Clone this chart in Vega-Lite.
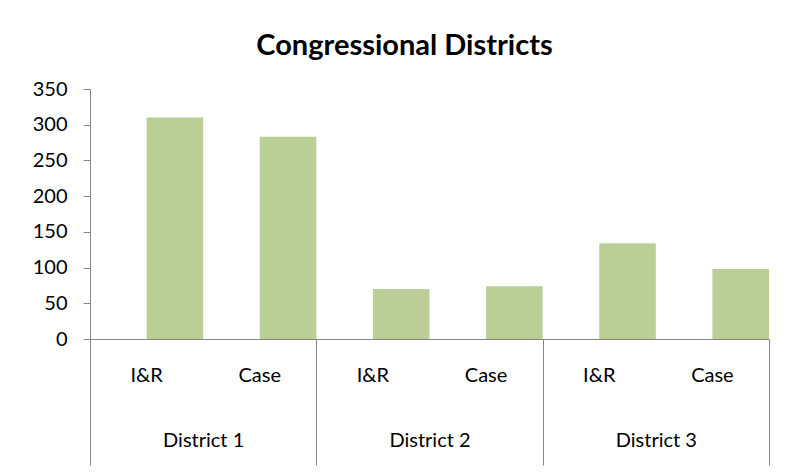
{
  "$schema": "https://vega.github.io/schema/vega-lite/v6.json",
  "width": 679,
  "height": 250,
  "autosize": {"type": "none"},
  "padding": {"left": 90, "top": 89, "right": 19, "bottom": 135},
  "background": "white",
  "title": {
    "text": "Congressional Districts",
    "font": "Lato",
    "fontSize": 29,
    "fontWeight": "bold",
    "color": "black",
    "anchor": "middle",
    "dx": -25,
    "baseline": "alphabetic",
    "offset": -5
  },
  "config": {
    "view": {"stroke": null},
    "axis": {
      "labelFont": "Lato",
      "labelFontSize": 20,
      "labelColor": "black",
      "labelOverlap": false,
      "domainColor": "#868686",
      "tickColor": "#868686",
      "grid": false,
      "title": null
    }
  },
  "data": {
    "values": [
      {"district": "District 1", "bar": "District 1|I&R", "type": "I&R", "value": 310},
      {"district": "District 1", "bar": "District 1|Case", "type": "Case", "value": 283},
      {"district": "District 2", "bar": "District 2|I&R", "type": "I&R", "value": 70},
      {"district": "District 2", "bar": "District 2|Case", "type": "Case", "value": 74},
      {"district": "District 3", "bar": "District 3|I&R", "type": "I&R", "value": 134},
      {"district": "District 3", "bar": "District 3|Case", "type": "Case", "value": 98}
    ]
  },
  "encoding": {
    "y": {
      "field": "value",
      "type": "quantitative",
      "scale": {"domain": [0, 350], "nice": false},
      "axis": {
        "values": [0, 50, 100, 150, 200, 250, 300, 350],
        "tickSize": 7,
        "labelPadding": 16
      }
    }
  },
  "layer": [
    {
      "mark": {"type": "bar", "color": "#BACF96"},
      "encoding": {
        "x": {
          "field": "bar",
          "type": "nominal",
          "sort": null,
          "scale": {"paddingInner": 0, "paddingOuter": 0},
          "axis": {
            "orient": "bottom",
            "labelAngle": 0,
            "ticks": false,
            "domain": true,
            "labelPadding": 26,
            "labelExpr": "split(datum.label, '|')[1]"
          }
        },
        "xOffset": {
          "datum": "b",
          "scale": {"domain": ["a", "b"], "paddingInner": 0, "paddingOuter": 0}
        }
      }
    },
    {
      "mark": {"type": "point", "opacity": 0},
      "encoding": {
        "x": {
          "field": "district",
          "type": "nominal",
          "sort": null,
          "scale": {"paddingInner": 0, "paddingOuter": 0},
          "axis": {
            "orient": "bottom",
            "labelAngle": 0,
            "domain": false,
            "ticks": true,
            "tickBand": "extent",
            "tickSize": 126,
            "labelPadding": -35
          }
        }
      }
    }
  ],
  "resolve": {"scale": {"x": "independent"}}
}
